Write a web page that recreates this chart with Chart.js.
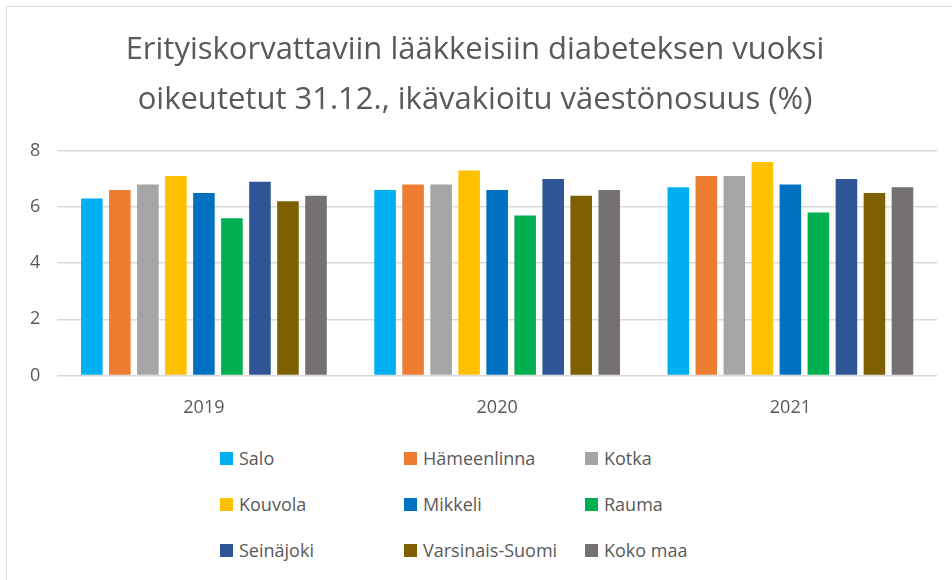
<!DOCTYPE html>
<html>
<head>
<meta charset="utf-8">
<script src="https://cdn.jsdelivr.net/npm/chart.js@4"></script>
<style>
  html, body { margin: 0; padding: 0; background: #fff; }
  #wrap { position: relative; width: 952px; height: 580px; overflow: hidden; }
  #frame { position: absolute; left: 6px; top: 6px; width: 960px; height: 600px;
           border-left: 1px solid #d9d9d9; border-top: 1px solid #d9d9d9; }
  #chartBox { position: absolute; left: 0; top: 0; width: 952px; height: 434px; }
  #legend { position: absolute; left: 220px; top: 446px; display: grid;
            grid-template-columns: 184px 181px 180px; row-gap: 22px;
            font-family: "Open Sans", sans-serif; font-size: 18px; color: #595959; }
  #legend div { display: flex; align-items: center; height: 24px; white-space: nowrap; }
  #legend span.box { width: 13px; height: 13px; margin-right: 6px; display: inline-block; }
</style>
</head>
<body>
<div id="wrap">
  <div id="frame"></div>
  <div id="chartBox"><canvas id="myChart"></canvas></div>
  <div id="legend"></div>
</div>
<script>
const years = ['2019', '2020', '2021'];
const regions = ['Salo', 'Hämeenlinna', 'Kotka', 'Kouvola', 'Mikkeli', 'Rauma', 'Seinäjoki', 'Varsinais-Suomi', 'Koko maa'];
const colors = ['#00B0F0', '#ED7D31', '#A5A5A5', '#FFC000', '#0070C0', '#00B050', '#2F5597', '#7F6000', '#767171'];

const salo = [6.3, 6.6, 6.7];
const hameenlinna = [6.6, 6.8, 7.1];
const kotka = [6.8, 6.8, 7.1];
const kouvola = [7.1, 7.3, 7.6];
const mikkeli = [6.5, 6.6, 6.8];
const rauma = [5.6, 5.7, 5.8];
const seinajoki = [6.9, 7.0, 7.0];
const varsinaisSuomi = [6.2, 6.4, 6.5];
const kokoMaa = [6.4, 6.6, 6.7];
const values = [salo, hameenlinna, kotka, kouvola, mikkeli, rauma, seinajoki, varsinaisSuomi, kokoMaa];

const yTicks = [0, 2, 4, 6, 8];

const font = '"Open Sans", sans-serif';
const ctx = document.getElementById('myChart').getContext('2d');

new Chart(ctx, {
  type: 'bar',
  data: {
    labels: years,
    datasets: regions.map((name, i) => ({
      label: name,
      data: values[i],
      backgroundColor: colors[i],
      borderWidth: 0,
      categoryPercentage: 0.86,
      barPercentage: 0.77
    }))
  },
  options: {
    responsive: true,
    maintainAspectRatio: false,
    animation: false,
    layout: { padding: { left: 13, right: 15, top: 0, bottom: 1 } },
    plugins: {
      legend: { display: false },
      tooltip: { enabled: false },
      title: {
        display: true,
        text: ['Erityiskorvattaviin lääkkeisiin diabeteksen vuoksi', 'oikeutetut 31.12., ikävakioitu väestönosuus (%)'],
        color: '#595959',
        font: { family: font, size: 31, weight: 'normal', lineHeight: 1.61 },
        padding: { top: 25, bottom: 26 }
      }
    },
    scales: {
      x: {
        grid: { display: false },
        border: { display: false },
        ticks: { color: '#595959', font: { family: font, size: 18 }, padding: 14 }
      },
      y: {
        min: 0,
        max: 8,
        afterBuildTicks: axis => { axis.ticks = yTicks.map(v => ({ value: v })); },
        grid: { color: '#d9d9d9', lineWidth: 1.5, drawTicks: false },
        border: { display: false },
        ticks: { color: '#595959', font: { family: font, size: 18 }, padding: 17 }
      }
    }
  }
});

const legendEl = document.getElementById('legend');
regions.forEach((name, i) => {
  const item = document.createElement('div');
  item.innerHTML = '<span class="box" style="background:' + colors[i] + '"></span>' + name;
  legendEl.appendChild(item);
});
</script>
</body>
</html>
